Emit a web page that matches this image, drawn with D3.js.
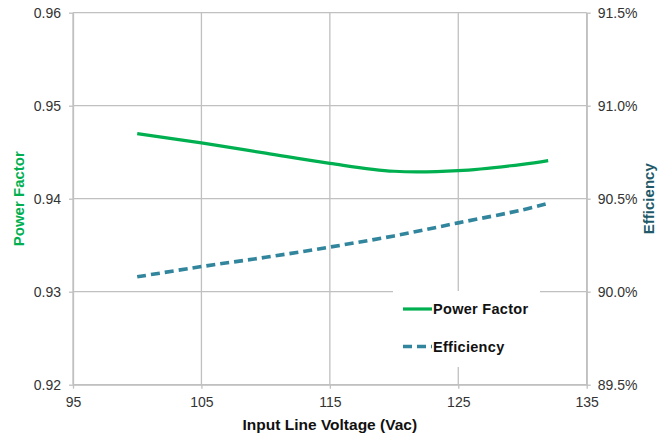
<!DOCTYPE html>
<html><head><meta charset="utf-8">
<script src="https://cdn.jsdelivr.net/npm/d3@7"></script>
<style>
html,body{margin:0;padding:0;background:#fff;}
svg{display:block;}
</style></head>
<body>
<svg id="chart" width="672" height="439"></svg>
<script>
const voltages = [100, 105, 110, 115, 120, 125, 130, 132];
const powerFactor = [0.9470, 0.9460, 0.9449, 0.9438, 0.94295, 0.94302, 0.9437, 0.9441];
const efficiency = [90.08, 90.135, 90.185, 90.24, 90.30, 90.37, 90.44, 90.475];
const xTicks = [95, 105, 115, 125, 135];
const pfTicks = [0.92, 0.93, 0.94, 0.95, 0.96];
const effTicks = [89.5, 90.0, 90.5, 91.0, 91.5];
const seriesNames = ["Power Factor", "Efficiency"];

const svg = d3.select("#chart");
const L = 73, R = 586.7, T = 12.7, B = 384.7;
const x = d3.scaleLinear().domain([95, 135]).range([L, R]);
const yL = d3.scaleLinear().domain([0.92, 0.96]).range([B, T]);
const yR = d3.scaleLinear().domain([89.5, 91.5]).range([B, T]);
const grid = "#c0c0c0", txt = "#333";
const green = "#00B050", teal = "#31859C";
const font = "'Liberation Sans', Arial, sans-serif";

// gridlines
svg.append("g").selectAll("line").data(pfTicks).join("line")
  .attr("x1", L).attr("x2", R).attr("y1", d => yL(d)).attr("y2", d => yL(d))
  .attr("stroke", grid).attr("stroke-width", 1.3);
svg.append("g").selectAll("line").data(xTicks).join("line")
  .attr("x1", d => x(d)).attr("x2", d => x(d)).attr("y1", T).attr("y2", B)
  .attr("stroke", grid).attr("stroke-width", 1.3);

// axes
function styleAxis(g){
  g.select(".domain").attr("stroke", grid).attr("stroke-width", 1.3);
  g.selectAll(".tick line").attr("stroke", grid).attr("stroke-width", 1.3);
  g.selectAll(".tick text").attr("fill", txt).style("font-family", font).style("font-size", "14px");
}
svg.append("g").attr("transform", `translate(${L},0)`)
  .call(d3.axisLeft(yL).tickValues(pfTicks).tickFormat(d3.format(".2f")).tickSize(4).tickPadding(8).tickSizeOuter(0))
  .call(styleAxis);
svg.append("g").attr("transform", `translate(${R},0)`)
  .call(d3.axisRight(yR).tickValues(effTicks).tickFormat(d => d.toFixed(1) + "%").tickSize(4).tickPadding(7).tickSizeOuter(0))
  .call(styleAxis);
svg.append("g").attr("transform", `translate(0,${B})`)
  .call(d3.axisBottom(x).tickValues(xTicks).tickFormat(d3.format("d")).tickSize(4).tickPadding(8).tickSizeOuter(0))
  .call(styleAxis);

// legend background
svg.append("rect").attr("x", 393).attr("y", 291).attr("width", 147).attr("height", 76).attr("fill", "#fff");

// lines
const pfLine = d3.line().x((d, i) => x(voltages[i])).y(d => yL(d)).curve(d3.curveCatmullRom.alpha(0.5));
const effLine = d3.line().x((d, i) => x(voltages[i])).y(d => yR(d)).curve(d3.curveCatmullRom.alpha(0.5));
svg.append("path").datum(powerFactor).attr("d", pfLine).attr("fill", "none")
  .attr("stroke", green).attr("stroke-width", 3.2);
svg.append("path").datum(efficiency).attr("d", effLine).attr("fill", "none")
  .attr("stroke", teal).attr("stroke-width", 3.6).attr("stroke-dasharray", "9,5");

// legend
const lg = svg.append("g");
const legendRows = [{name: seriesNames[0], color: green, dash: null, y: 309},
                    {name: seriesNames[1], color: teal, dash: "9,5", y: 346.5}];
legendRows.forEach(r => {
  lg.append("line").attr("x1", 403).attr("x2", 432).attr("y1", r.y).attr("y2", r.y)
    .attr("stroke", r.color).attr("stroke-width", r.dash ? 3.6 : 3.2)
    .attr("stroke-dasharray", r.dash);
  lg.append("text").attr("x", 433).attr("y", r.y).attr("dy", "0.35em")
    .style("font-family", font).style("font-weight", "bold").style("font-size", "14.5px")
    .style("letter-spacing", "0.3px").attr("fill", "#111").text(r.name);
});

// axis titles
svg.append("text").attr("x", (L + R) / 2).attr("y", 425).attr("dy", "0.35em").attr("text-anchor", "middle")
  .style("font-family", font).style("font-weight", "bold").style("font-size", "15.5px").attr("fill", "#111")
  .text("Input Line Voltage (Vac)");
svg.append("text").attr("transform", `translate(19,${(T + B) / 2}) rotate(-90)`).attr("dy", "0.35em")
  .attr("text-anchor", "middle").style("font-family", font).style("font-weight", "bold").style("font-size", "15px")
  .attr("fill", green).text("Power Factor");
svg.append("text").attr("transform", `translate(649,${(T + B) / 2}) rotate(-90)`).attr("dy", "0.35em")
  .attr("text-anchor", "middle").style("font-family", font).style("font-weight", "bold").style("font-size", "15px")
  .attr("fill", "#215968").text("Efficiency");
</script>
</body></html>
